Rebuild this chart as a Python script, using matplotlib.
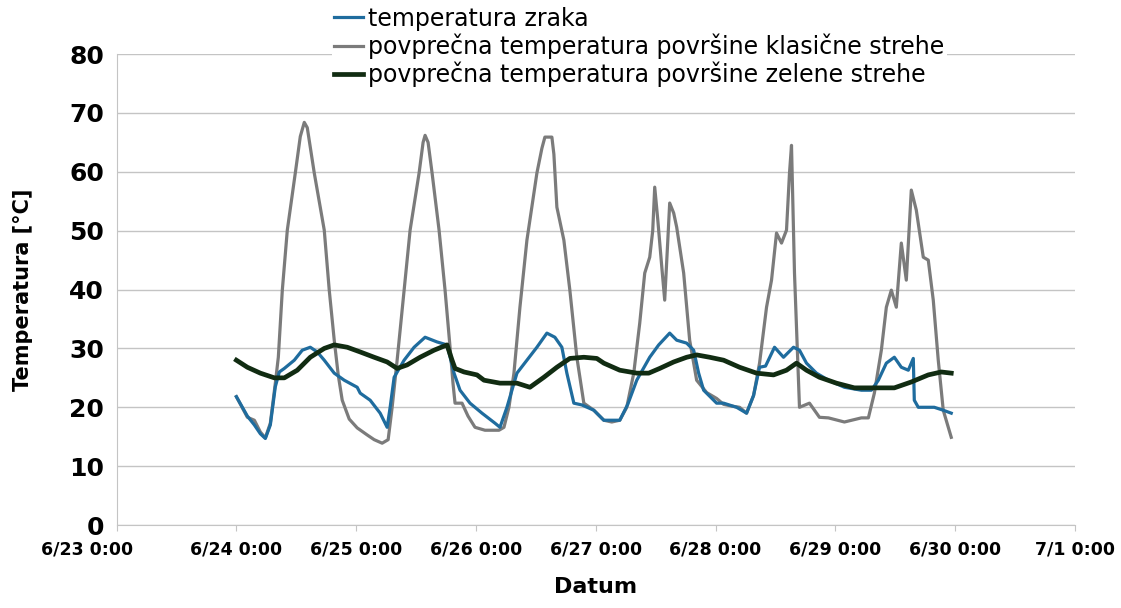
import matplotlib
matplotlib.use("Agg")
import matplotlib.pyplot as plt
import pandas as pd

# hours since 6/24 0:00
gray_hours = [0.0, 2.2, 3.6, 4.8, 5.8, 6.8, 7.8, 8.4, 9.2, 10.2, 11.8, 12.8, 13.6, 14.2, 15.6, 17.6, 18.6, 19.6, 20.4, 21.2,
              22.6, 24.2, 26.2, 27.6, 29.2, 30.4, 31.2, 32.2, 33.6, 34.8, 36.6, 37.4, 37.8, 38.4, 39.2, 40.6, 41.8, 42.8, 43.4, 43.8,
              45.2, 46.4, 47.8, 49.8, 52.6, 53.6, 54.6, 55.6, 56.8, 58.2, 60.2, 61.2, 61.8, 63.2, 63.6, 64.2, 65.6, 66.8, 68.2, 69.6,
              71.6, 73.6, 75.2, 76.8, 78.2, 79.6, 80.8, 81.8, 82.8, 83.4, 83.8, 84.4, 85.2, 85.8, 86.4, 86.8, 87.6, 88.2, 89.6, 90.8,
              92.2, 94.2, 96.2, 97.6, 99.2, 100.8, 102.2, 103.6, 104.8, 106.2, 107.2, 108.2, 109.2, 110.2, 110.8, 111.2, 111.8, 112.8,
              114.8, 116.8, 118.6, 121.8, 125.2, 126.6, 127.8, 129.2, 130.2, 131.2, 132.2, 133.2, 134.2, 135.2, 136.2, 137.6, 138.6,
              139.6, 140.6, 141.6, 143.2]
gray_temp = [21.8, 18.3, 17.8, 15.8, 14.8, 17.3, 24.1, 28.5, 39.9, 50.1, 59.8, 66.0, 68.4, 67.5, 59.8, 50.1, 39.9, 31.4, 25.5, 21.2,
             18.0, 16.5, 15.3, 14.5, 13.9, 14.5, 20.0, 28.0, 39.9, 50.1, 59.8, 65.0, 66.2, 65.0, 59.8, 50.1, 39.9, 30.2, 24.0, 20.7,
             20.7, 18.5, 16.6, 16.1, 16.1, 16.6, 20.0, 25.8, 37.0, 48.4, 59.8, 64.0, 65.9, 65.9, 63.0, 54.0, 48.4, 39.9, 28.5, 20.7,
             19.5, 17.8, 17.5, 17.8, 20.0, 25.8, 34.3, 42.8, 45.5, 50.0, 57.4, 52.0, 44.0, 38.2, 48.0, 54.7, 53.0, 50.6, 42.8, 31.4,
             24.6, 22.5, 21.5, 20.5, 20.2, 20.0, 19.0, 22.0, 27.5, 37.0, 41.6, 49.6, 47.9, 50.1, 59.8, 64.5, 42.8, 20.0,
             20.7, 18.3, 18.2, 17.5, 18.2, 18.2, 22.4, 29.7, 37.0, 39.9, 37.0, 47.9, 41.6, 56.9, 53.5, 45.5, 45.0,
             38.2, 28.0, 19.5, 14.9]

air_hours = [0.0, 2.2, 3.6, 4.8, 5.8, 6.8, 7.8, 8.6, 9.6, 11.6, 13.2, 14.8, 16.2, 17.6, 19.6, 21.6, 24.2, 24.8, 26.8, 28.8,
             30.2, 30.8, 31.6, 33.6, 35.6, 37.8, 40.2, 42.2, 43.6, 44.8, 46.8, 49.2, 51.8, 52.8, 54.2, 56.2, 58.2, 60.2, 62.2, 63.8,
             65.2, 66.2, 67.6, 69.2, 71.6, 73.6, 76.8, 78.4, 80.2, 82.8, 84.6, 86.8, 88.2, 90.2, 91.6, 92.6, 93.6, 96.2, 97.6, 100.2,
             102.2, 103.6, 104.8, 106.0, 107.8, 109.6, 111.6, 112.8, 114.2, 116.2, 118.6, 121.8, 125.2, 127.2, 128.6, 130.2, 131.8,
             133.2, 134.6, 135.6, 135.8, 136.6, 139.8, 141.6, 143.2]
air_temp = [21.8, 18.5, 17.0, 15.5, 14.7, 17.0, 23.5, 26.0, 26.6, 28.0, 29.7, 30.2, 29.4, 28.0, 25.8, 24.6, 23.4, 22.4, 21.2, 19.0,
            16.6, 20.0, 25.1, 28.0, 30.2, 31.9, 31.1, 30.6, 25.8, 22.9, 20.7, 19.0, 17.3, 16.6, 20.0, 25.8, 28.0, 30.2, 32.6, 31.9,
            30.2, 25.8, 20.7, 20.4, 19.5, 17.8, 17.8, 20.5, 24.6, 28.5, 30.6, 32.6, 31.4, 30.9, 29.7, 25.8, 22.9, 20.7, 20.7, 20.0,
            19.0, 22.0, 26.8, 27.0, 30.2, 28.5, 30.2, 29.7, 27.5, 25.8, 24.6, 23.4, 22.9, 22.9, 24.6, 27.5, 28.5,
            26.8, 26.3, 28.3, 21.2, 20.0, 20.0, 19.5, 19.0]

green_hours = [0.0, 2.2, 4.8, 7.6, 9.6, 12.2, 14.8, 17.6, 19.6, 22.2, 24.8, 27.6, 30.2, 32.2, 34.2, 36.8, 39.6, 42.2, 43.2, 43.8,
               45.6, 48.2, 49.6, 52.8, 56.2, 58.8, 61.6, 64.2, 66.8, 69.6, 72.2, 73.6, 76.8, 80.2, 82.6, 84.8, 87.6, 90.2, 92.2, 94.8,
               97.6, 100.8, 104.2, 107.6, 110.2, 112.2, 114.2, 116.8, 120.2, 123.8, 128.6, 131.8, 135.2, 138.6, 141.2, 143.2]
green_temp = [28.0, 26.8, 25.8, 25.0, 25.0, 26.3, 28.5, 30.0, 30.6, 30.2, 29.4, 28.5, 27.7, 26.6, 27.2, 28.5, 29.7, 30.6, 28.0, 26.6,
              26.0, 25.5, 24.6, 24.1, 24.1, 23.4, 25.1, 26.8, 28.3, 28.5, 28.3, 27.5, 26.3, 25.8, 25.8, 26.6, 27.7, 28.5, 28.9, 28.5,
              28.0, 26.8, 25.8, 25.5, 26.3, 27.5, 26.3, 25.1, 24.1, 23.3, 23.3, 23.3, 24.3, 25.5, 26.0, 25.8]

series_labels = ["temperatura zraka",
                 "povprečna temperatura površine klasične strehe",
                 "povprečna temperatura površine zelene strehe"]
tick_dates = ["2015-06-23", "2015-06-24", "2015-06-25", "2015-06-26", "2015-06-27",
              "2015-06-28", "2015-06-29", "2015-06-30", "2015-07-01"]
tick_labels = ["6/23 0:00", "6/24 0:00", "6/25 0:00", "6/26 0:00", "6/27 0:00",
               "6/28 0:00", "6/29 0:00", "6/30 0:00", "7/1 0:00"]
y_ticks = [0, 10, 20, 30, 40, 50, 60, 70, 80]

base = pd.Timestamp("2015-06-24")
def to_time(h):
    return base + pd.to_timedelta(h, unit="h")

fig = plt.figure(figsize=(11.21, 6.08), dpi=100)
ax = fig.add_axes([0.104, 0.1365, 0.855, 0.7745])

ax.set_axisbelow(True)
ax.grid(axis="y", color="#c4c4c4", linewidth=1.0)
l_gray, = ax.plot(to_time(gray_hours), gray_temp, color="#7b7b7b", linewidth=2.3, solid_joinstyle="round", zorder=3)
l_air, = ax.plot(to_time(air_hours), air_temp, color="#1f6c9e", linewidth=2.3, solid_joinstyle="round", zorder=4)
l_green, = ax.plot(to_time(green_hours), green_temp, color="#112c12", linewidth=3.4, solid_joinstyle="round", zorder=5)

tick_font = dict(fontsize=12.5, fontweight="bold")
ticks = pd.to_datetime(tick_dates)
ax.set_xlim(ticks[0], ticks[-1])
ax.set_xticks(ticks)
# the first date label sits shifted left in the original, drawn separately below
ax.set_xticklabels([""] + tick_labels[1:], **tick_font)
ax.annotate(tick_labels[0], xy=(ticks[0], 0), xycoords=("data", "axes fraction"),
            xytext=(-21, -11.5), textcoords="offset points", ha="center", va="top",
            annotation_clip=False, **tick_font)
ax.set_ylim(0, 80)
ax.set_yticks(y_ticks)
ax.set_yticklabels([str(v) for v in y_ticks], fontsize=18, fontweight="bold")

for s in ["top", "right"]:
    ax.spines[s].set_visible(False)
ax.spines["left"].set_color("#c4c4c4")
ax.spines["bottom"].set_color("#c4c4c4")
ax.tick_params(axis="y", length=0, pad=9)
ax.tick_params(axis="x", length=4, color="#c4c4c4", pad=7.5)

ax.set_ylabel("Temperatura [°C]", fontsize=15, fontweight="bold", labelpad=26)
ax.set_xlabel("Datum", fontsize=16, fontweight="bold", labelpad=13)

leg = fig.legend([l_air, l_gray, l_green], series_labels, loc="upper left",
                 bbox_to_anchor=(0.296, 0.993), frameon=True, fontsize=17,
                 handlelength=1.2, handletextpad=0.25, labelspacing=0.12,
                 borderaxespad=0, borderpad=0.1)
leg.get_frame().set_facecolor("white")
leg.get_frame().set_edgecolor("none")
leg.get_frame().set_alpha(1)
leg.set_zorder(10)

fig.savefig("out.png", dpi=100)
